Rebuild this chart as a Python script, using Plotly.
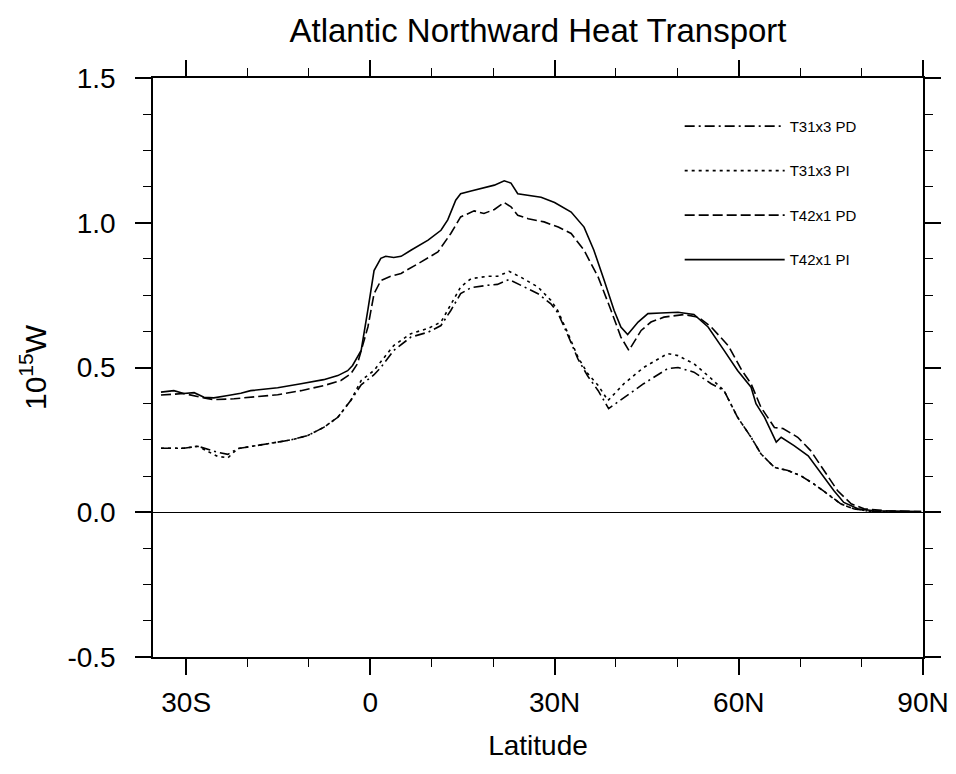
import plotly.graph_objects as go

# ---------------- data ----------------
lat_t31_pd = [-34.1, -30.4, -28.1, -24.9, -23.2, -21.6, -19.5, -16.2, -12.9, -10.2, -7.6, -5.3, -3.2, -1.5,
              0.6, 1.7, 3.8, 6.6, 9.4, 11.5, 13.1, 14.7, 16.4, 19.1, 20.7, 22.6, 24.5, 27.3, 29.4, 30.5,
              32.2, 33.8, 35.4, 37.1, 38.8, 41.3, 44.5, 48.4, 50.1, 52.7, 55.5, 57.6, 59.8, 62.0, 63.6,
              65.8, 68.0, 70.1, 72.2, 74.5, 76.6, 78.7, 81.0, 85.0, 89.7]
val_t31_pd = [0.221, 0.221, 0.228, 0.207, 0.200, 0.220, 0.227, 0.238, 0.250, 0.265, 0.293, 0.328, 0.386, 0.440,
              0.475, 0.500, 0.559, 0.605, 0.622, 0.645, 0.697, 0.755, 0.776, 0.784, 0.787, 0.804, 0.784, 0.755,
              0.720, 0.690, 0.610, 0.530, 0.470, 0.420, 0.358, 0.397, 0.444, 0.496, 0.500, 0.484, 0.444, 0.420,
              0.328, 0.259, 0.202, 0.155, 0.144, 0.126, 0.098, 0.063, 0.029, 0.012, 0.004, 0.002, 0.001]

lat_t31_pi = [-34.1, -30.4, -28.1, -24.9, -23.2, -21.6, -19.5, -16.2, -12.9, -10.2, -7.6, -5.3, -3.2, -1.5,
              0.6, 1.7, 3.8, 6.6, 9.4, 11.5, 13.1, 14.7, 16.4, 19.1, 20.7, 22.6, 24.5, 27.3, 29.4, 30.5,
              32.2, 33.8, 35.4, 37.1, 38.7, 41.3, 44.5, 48.4, 50.1, 52.7, 55.5, 57.6, 59.8, 62.0, 63.6,
              65.8, 68.0, 70.1, 72.2, 74.5, 76.6, 78.7, 81.0, 85.0, 89.7]
val_t31_pi = [0.221, 0.221, 0.228, 0.193, 0.188, 0.220, 0.227, 0.238, 0.250, 0.265, 0.293, 0.328, 0.386, 0.455,
              0.490, 0.520, 0.576, 0.617, 0.635, 0.657, 0.720, 0.778, 0.807, 0.815, 0.815, 0.832, 0.812, 0.778,
              0.732, 0.697, 0.617, 0.536, 0.479, 0.438, 0.386, 0.444, 0.500, 0.548, 0.541, 0.513, 0.462, 0.420,
              0.328, 0.259, 0.202, 0.155, 0.144, 0.126, 0.098, 0.063, 0.029, 0.012, 0.004, 0.002, 0.001]

lat_t42_pd = [-34.1, -30.4, -27.1, -25.5, -22.2, -19.5, -15.1, -11.3, -7.5, -4.8, -3.2, -2.1, -0.4, 0.6,
              1.7, 3.3, 5.0, 8.2, 11.0, 13.1, 14.7, 16.9, 18.5, 20.2, 21.8, 22.9, 24.0, 25.7, 28.3, 30.6,
              32.7, 34.8, 37.1, 39.2, 40.8, 42.1, 44.1, 45.7, 47.8, 51.1, 53.4, 55.5, 58.3, 60.5, 62.0,
              63.6, 65.8, 67.2, 69.6, 71.7, 73.9, 76.1, 78.3, 80.4, 84.0, 89.7]
val_t42_pd = [0.405, 0.410, 0.395, 0.389, 0.392, 0.397, 0.406, 0.420, 0.438, 0.455, 0.478, 0.513, 0.640, 0.755,
              0.800, 0.815, 0.825, 0.864, 0.899, 0.963, 1.020, 1.041, 1.032, 1.046, 1.070, 1.055, 1.026, 1.014,
              1.003, 0.985, 0.963, 0.905, 0.812, 0.697, 0.605, 0.559, 0.628, 0.657, 0.674, 0.683, 0.674, 0.640,
              0.575, 0.490, 0.444, 0.363, 0.293, 0.289, 0.259, 0.213, 0.144, 0.074, 0.029, 0.012, 0.005, 0.002]

lat_t42_pi = [-34.1, -32.0, -30.4, -28.7, -27.1, -25.5, -23.2, -21.1, -19.5, -15.1, -11.3, -7.6, -5.3, -3.7,
              -2.9, -1.5, -0.4, 0.6, 1.7, 2.5, 3.8, 5.0, 6.6, 9.4, 11.5, 12.6, 13.9, 14.7, 16.4, 18.5, 20.2,
              21.8, 22.9, 24.0, 25.7, 27.8, 30.0, 32.7, 34.8, 36.4, 38.1, 39.7, 40.8, 41.9, 43.6, 45.2, 47.3,
              50.1, 52.7, 55.0, 57.6, 59.8, 62.0, 62.8, 64.2, 66.1, 66.9, 69.0, 71.3, 73.4, 75.5, 77.1, 79.4,
              82.0, 86.0, 89.7]
val_t42_pi = [0.415, 0.420, 0.410, 0.413, 0.397, 0.395, 0.403, 0.411, 0.420, 0.430, 0.444, 0.458, 0.472, 0.489,
              0.507, 0.559, 0.700, 0.835, 0.877, 0.884, 0.880, 0.884, 0.905, 0.940, 0.974, 1.010, 1.078, 1.100,
              1.110, 1.120, 1.130, 1.145, 1.137, 1.100, 1.095, 1.088, 1.070, 1.037, 0.985, 0.905, 0.800, 0.697,
              0.640, 0.614, 0.657, 0.686, 0.688, 0.691, 0.683, 0.640, 0.559, 0.490, 0.432, 0.375, 0.328, 0.242,
              0.259, 0.230, 0.195, 0.133, 0.074, 0.034, 0.012, 0.005, 0.003, 0.002]

x_tickvals = [-30, 0, 30, 60, 90]
x_ticktext = ["30S", "0", "30N", "60N", "90N"]
y_tickvals = [-0.5, 0.0, 0.5, 1.0, 1.5]
y_ticktext = ["-0.5", "0.0", "0.5", "1.0", "1.5"]

FONT = "Liberation Sans, Arial, Helvetica, sans-serif"

series = [
    ("T31x3 PD", lat_t31_pd, val_t31_pd, "10px,4px,2px,4px"),
    ("T31x3 PI", lat_t31_pi, val_t31_pi, "3px,4px"),
    ("T42x1 PD", lat_t42_pd, val_t42_pd, "10px,4px"),
    ("T42x1 PI", lat_t42_pi, val_t42_pi, "solid"),
]

fig = go.Figure()
for i, (name, x, y, dash) in enumerate(series):
    fig.add_trace(go.Scatter(
        x=x, y=y, name=name, mode="lines", legendgroup=f"g{i}",
        line=dict(color="black", width=1.6, dash=dash),
    ))

axis_common = dict(
    showline=True, linecolor="black", linewidth=1.5, mirror="allticks",
    ticks="outside", ticklen=16, tickwidth=1.5, tickcolor="black",
    showgrid=False, automargin=False,
    tickfont=dict(family=FONT, size=28, color="black"),
)

fig.update_xaxes(
    range=[-35.4, 90], tickvals=x_tickvals, ticktext=x_ticktext,
    minor=dict(dtick=10, tick0=0, ticks="outside", ticklen=8, tickwidth=1, tickcolor="black"),
    zeroline=False, ticklabelstandoff=4,
    title=dict(text="Latitude", font=dict(family=FONT, size=28, color="black"), standoff=18),
    **axis_common,
)
fig.update_yaxes(
    range=[-0.5, 1.5], tickvals=y_tickvals, ticktext=y_ticktext,
    minor=dict(dtick=0.125, tick0=0, ticks="outside", ticklen=8, tickwidth=1, tickcolor="black"),
    zeroline=True, zerolinecolor="black", zerolinewidth=1,
    ticklabelstandoff=14,
    title=dict(text="10<sup>15</sup>W", font=dict(family=FONT, size=30, color="black"), standoff=12),
    **axis_common,
)

fig.update_layout(
    width=956, height=774,
    margin=dict(l=153, r=33, t=78, b=117),
    paper_bgcolor="white", plot_bgcolor="white",
    title=dict(text="Atlantic Northward Heat Transport", x=0.5, xref="paper", xanchor="center",
               y=1 - 30 / 774, yref="container", yanchor="middle",
               font=dict(family=FONT, size=33, color="black")),
    showlegend=True,
    legend=dict(x=0.684, y=0.945, xanchor="left", yanchor="top", bgcolor="rgba(0,0,0,0)",
                font=dict(family=FONT, size=15, color="black"), itemwidth=100,
                tracegroupgap=22, traceorder="grouped"),
)

fig.write_html("out.html")
